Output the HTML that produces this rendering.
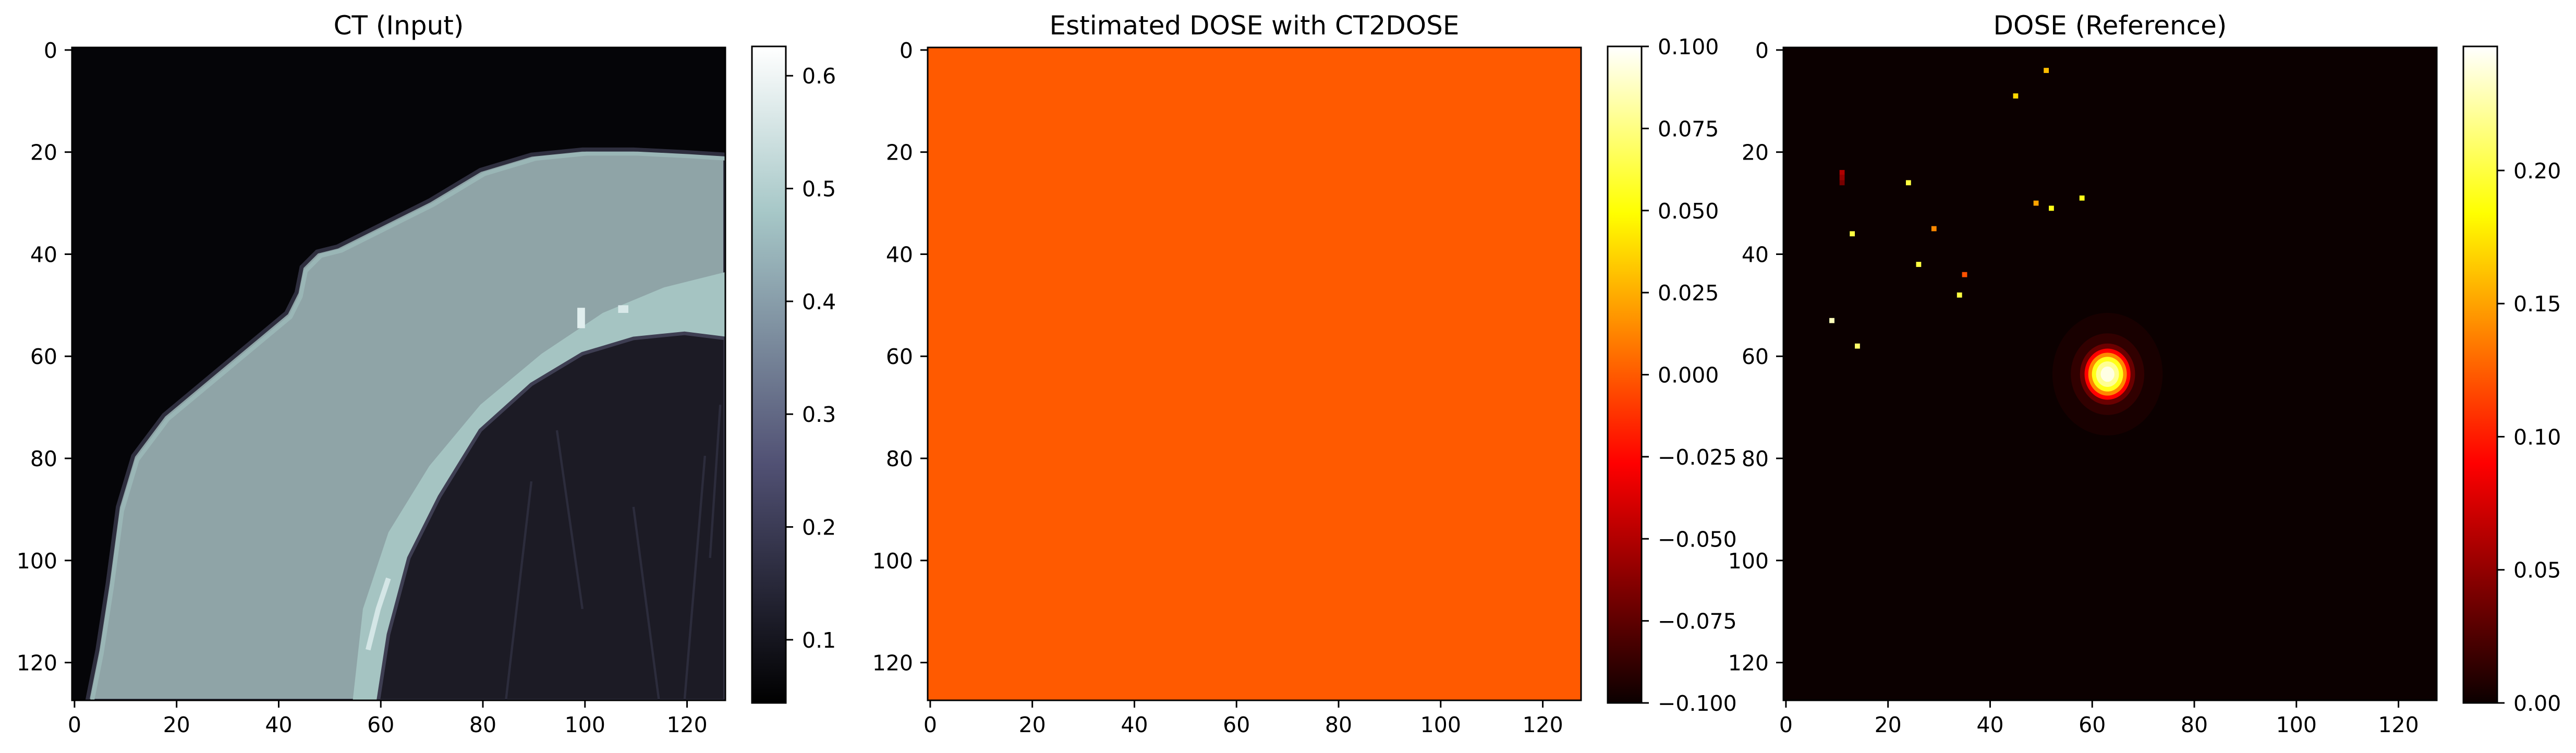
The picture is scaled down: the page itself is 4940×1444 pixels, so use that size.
<!DOCTYPE html>
<html><head><meta charset="utf-8"><title>CT vs DOSE</title>
<style>
html,body{margin:0;padding:0;background:#fff;}
svg{display:block;font-family:"DejaVu Sans","Liberation Sans",sans-serif;}
</style></head>
<body>
<svg id="fig" width="4940" height="1444" viewBox="0 0 4940 1444" xmlns="http://www.w3.org/2000/svg">
<defs>
<linearGradient id="boneGrad" x1="0" y1="1" x2="0" y2="0">
<stop offset="0" stop-color="#000000"/><stop offset="0.365" stop-color="#515174"/><stop offset="0.746" stop-color="#a6c7c7"/><stop offset="1" stop-color="#ffffff"/>
</linearGradient>
<linearGradient id="hotGrad" x1="0" y1="1" x2="0" y2="0">
<stop offset="0" stop-color="#0b0000"/><stop offset="0.365" stop-color="#ff0000"/><stop offset="0.746" stop-color="#ffff00"/><stop offset="1" stop-color="#ffffff"/>
</linearGradient>
<clipPath id="clipAx"><rect x="0" y="0" width="128" height="128"/></clipPath>
</defs>
</svg>
<script>
// ---- data ----
const panelTitles = ["CT (Input)", "Estimated DOSE with CT2DOSE", "DOSE (Reference)"];
const axisTicks = [0, 20, 40, 60, 80, 100, 120];
const ctCbTicks = [0.1, 0.2, 0.3, 0.4, 0.5, 0.6];
const ctRange = [0.044, 0.626];
const estCbTicks = [-0.1, -0.075, -0.05, -0.025, 0, 0.025, 0.05, 0.075, 0.1];
const estCbLabels = ["\u22120.100","\u22120.075","\u22120.050","\u22120.025","0.000","0.025","0.050","0.075","0.100"];
const estRange = [-0.1, 0.1];
const estValue = 0.0;
const refCbTicks = [0, 0.05, 0.1, 0.15, 0.2];
const refCbLabels = ["0.00","0.05","0.10","0.15","0.20"];
const refRange = [0, 0.2466];
// CT anatomy boundaries (image coords)
const skinX = [3, 5, 7, 9, 12, 18, 30, 42, 44, 45, 48, 52, 60, 70, 80, 90, 100, 110, 120, 128];
const skinY = [128, 118, 105, 90, 80, 72, 62, 52, 48, 43, 40, 39, 35, 30, 24, 21, 20, 20, 20.5, 21];
const bandX = [55, 57, 62, 70, 80, 92, 104, 116, 128];
const bandY = [128, 110, 95, 82, 70, 60, 52, 47, 44];
const lungX = [60, 62, 66, 72, 80, 90, 100, 110, 120, 128];
const lungY = [128, 115, 100, 88, 75, 66, 60, 57, 56, 57];
// DOSE reference hotspots
const spotX = [51, 45, 11, 11, 11, 24, 58, 49, 52, 29, 13, 26, 35, 34, 9, 14];
const spotY = [4, 9, 24, 25, 26, 26, 29, 30, 31, 35, 36, 42, 44, 48, 53, 58];
const spotV = [0.16, 0.17, 0.06, 0.05, 0.04, 0.2, 0.19, 0.15, 0.19, 0.14, 0.2, 0.2, 0.12, 0.2, 0.23, 0.21];
const blobCenter = [63, 63.5];
const blobRadii = [12, 8, 6, 5, 4.2, 3.4, 2.5, 1.5];
const blobValues = [0.005, 0.014, 0.035, 0.09, 0.14, 0.19, 0.22, 0.24];

// ---- layout ----
const NS = "http://www.w3.org/2000/svg";
const svg = document.getElementById("fig");
const AX0 = 138, PSTEP = 1641, AY = 91, AW = 1253, AH = 1252;
const CBOFF = 1304, CBW = 65, CBY = 89, CBH = 1259;
const cell = AW / 128;
function el(tag, attrs, parent){const e=document.createElementNS(NS,tag);for(const k in attrs)e.setAttribute(k,attrs[k]);(parent||svg).appendChild(e);return e;}
function hot(v,lo,hi){let x=(v-lo)/(hi-lo);x=Math.max(0,Math.min(1,x));
 const r=Math.min(1,0.0416+x/0.365*0.9584),g=Math.max(0,Math.min(1,(x-0.365)/0.381)),b=Math.max(0,Math.min(1,(x-0.746)/0.254));
 return `rgb(${Math.round(r*255)},${Math.round(g*255)},${Math.round(b*255)})`;}
function pts(xs,ys){return xs.map((x,i)=>x+","+ys[i]).join(" ");}

function drawAxes(p){
  const ax = AX0 + p*PSTEP;
  const t = el("text",{x:ax+AW/2,y:66,"text-anchor":"middle","font-size":"50"});
  t.textContent = panelTitles[p];
  
  
  axisTicks.forEach(v=>{
    const px = ax + (v+0.5)*cell, py = AY + (v+0.5)*cell;
    const tx = el("line",{x1:px,y1:AY+AH,x2:px,y2:AY+AH+14,stroke:"#000","stroke-width":"3"});
    
    
    const lx = el("text",{x:px,y:1404,"text-anchor":"middle","font-size":"41"}); lx.textContent=v;
    
    
    const ty = el("line",{x1:ax-14,y1:py,x2:ax,y2:py,stroke:"#000","stroke-width":"3"});
    
    
    const ly = el("text",{x:ax-28,y:py+15,"text-anchor":"end","font-size":"41"}); ly.textContent=v;
    
    
  });
  const g = el("g",{transform:`translate(${ax},${AY}) scale(${cell})`,"clip-path":"url(#clipAx)"});
  
  
  return g;
}
function drawFrame(p){
  const f = el("rect",{x:AX0+p*PSTEP,y:AY,width:AW,height:AH,fill:"none",stroke:"#000","stroke-width":"3"});
  
  
}
function drawColorbar(p, grad, ticks, labels, lo, hi){
  const cx = AX0 + p*PSTEP + CBOFF;
  const r = el("rect",{x:cx,y:CBY,width:CBW,height:CBH,fill:`url(#${grad})`,stroke:"#000","stroke-width":"3"});
  
  
  ticks.forEach((v,i)=>{
    const py = CBY + CBH - (v-lo)/(hi-lo)*CBH;
    const tk = el("line",{x1:cx+CBW,y1:py,x2:cx+CBW+14,y2:py,stroke:"#000","stroke-width":"3"});
    
    
    const lb = el("text",{x:cx+CBW+31,y:py+15,"font-size":"41"}); lb.textContent = labels[i];
    
    
  });
}

// Panel 1: CT
let g = drawAxes(0);
el("rect",{x:0,y:0,width:128,height:128,fill:"#050508"},g);
const body = el("polygon",{points:pts(skinX,skinY)+" 128,128",fill:"#8fa4a7",stroke:"#2e2e3e","stroke-width":"0.8"},g);


el("polyline",{points:pts(skinX.map(x=>x+0.8),skinY.map(y=>y+0.8)),fill:"none",stroke:"#9ab6b6","stroke-width":"0.8"},g);
const band = el("polygon",{points:pts(bandX,bandY)+" 128,128",fill:"#a5c4c2"},g);


const lung = el("polygon",{points:pts(lungX,lungY)+" 128,128",fill:"#1c1b25",stroke:"#3e3e52","stroke-width":"0.7"},g);


[[120,128,124,80],[115,128,110,90],[85,128,90,85],[100,110,95,75],[125,100,127,70]].forEach(l=>{
  el("line",{x1:l[0],y1:l[1],x2:l[2],y2:l[3],stroke:"#2c2c3c","stroke-width":"0.45"},g);
});
el("rect",{x:99,y:51,width:1.5,height:4,fill:"#e0eeee"},g);
el("rect",{x:107,y:50.5,width:2,height:1.5,fill:"#d8e8e8"},g);
el("polyline",{points:"58,118 60,110 62,104",fill:"none",stroke:"#d4e6e6","stroke-width":"1"},g);
drawFrame(0);
drawColorbar(0,"boneGrad",ctCbTicks,ctCbTicks.map(v=>v.toFixed(1)),ctRange[0],ctRange[1]);

// Panel 2: estimated dose
g = drawAxes(1);
const est = el("rect",{x:0,y:0,width:128,height:128,fill:hot(estValue,estRange[0],estRange[1])},g);


drawFrame(1);
drawColorbar(1,"hotGrad",estCbTicks,estCbLabels,estRange[0],estRange[1]);

// Panel 3: reference dose
g = drawAxes(2);
el("rect",{x:0,y:0,width:128,height:128,fill:hot(0,refRange[0],refRange[1])},g);
blobRadii.forEach((r,i)=>{
  const c = el("ellipse",{cx:blobCenter[0]+0.5,cy:blobCenter[1]+0.5,rx:r*0.9,ry:r,fill:hot(blobValues[i],refRange[0],refRange[1])},g);
  
  
});
spotX.forEach((x,i)=>{
  const s = el("rect",{x:x,y:spotY[i],width:1,height:1,fill:hot(spotV[i],refRange[0],refRange[1])},g);
  
  
});
drawFrame(2);
drawColorbar(2,"hotGrad",refCbTicks,refCbLabels,refRange[0],refRange[1]);
</script>
</body></html>
